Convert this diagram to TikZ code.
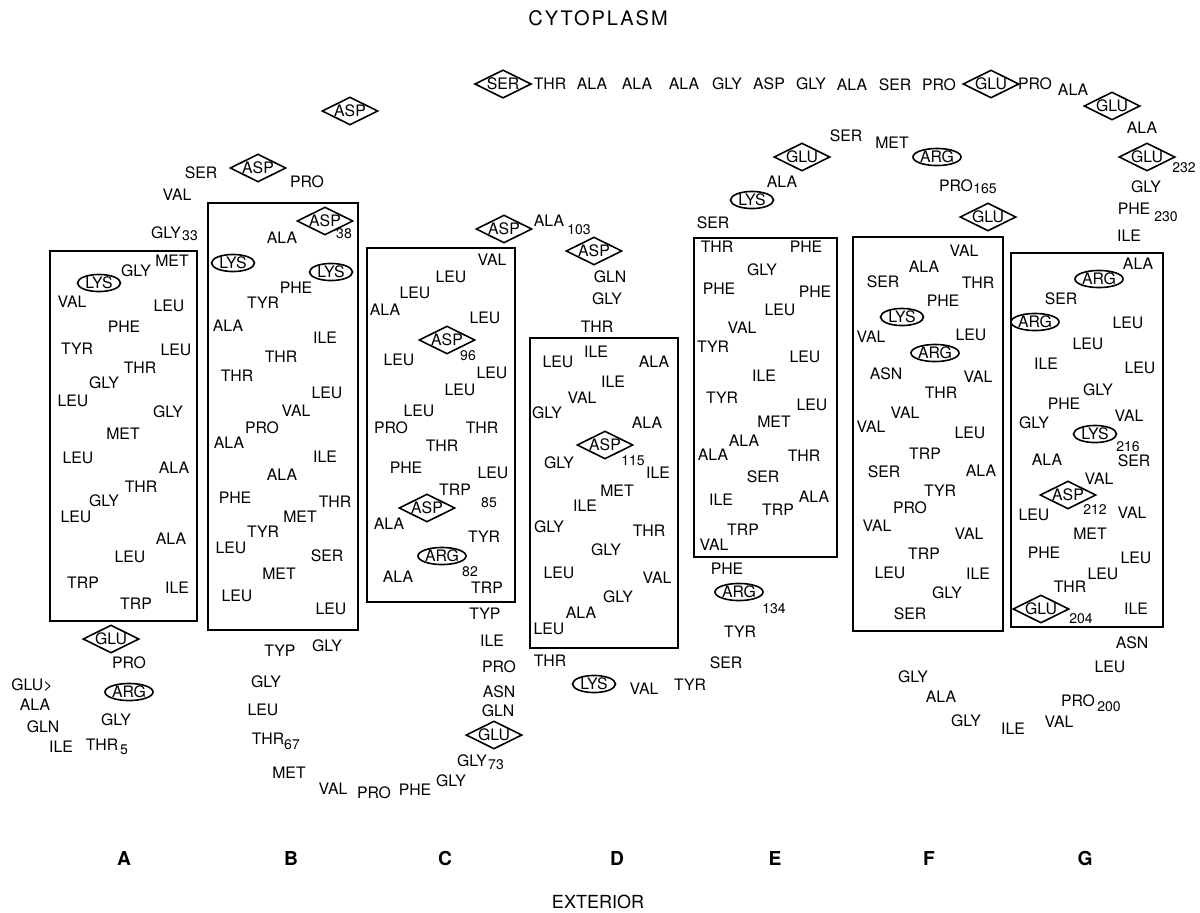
\documentclass[tikz,border=0pt]{standalone}
\usepackage{fontspec}
\setmainfont{TeX Gyre Heros}
\usetikzlibrary{shapes.geometric}
\newcommand\resfont{\fontsize{7.9}{9}\selectfont}
\newcommand\numfont{\fontsize{7}{8}\selectfont}
\newcommand\regfont{\fontsize{9}{11}\selectfont}
\newcommand\segfont{\fontsize{9.6}{11}\selectfont\bfseries}
\newcommand\resnode[4]{\node[res] (#1) at (#2,#3) {#4};}
\newcommand\numnode[4]{\node[num] (#1) at (#2,#3) {#4};}
\newcommand\acidnode[4]{\node[acid] (#1) at (#2,#3) {#4};}
\newcommand\basenode[4]{\node[base] (#1) at (#2,#3) {#4};}
\tikzset{
  res/.style={font=\resfont, inner sep=0pt},
  num/.style={font=\numfont, inner sep=0pt},
  acid/.style={res, draw, line width=0.8pt, shape=diamond, aspect=2,
    minimum width=28pt, minimum height=14pt},
  base/.style={res, draw, line width=0.8pt, ellipse,
    minimum width=21.5pt, minimum height=8.5pt},
  helix/.style={draw, line width=1pt},
  region/.style={font=\regfont, inner sep=0pt},
  segname/.style={font=\segfont, inner sep=0pt},
}
\begin{document}
\begin{tikzpicture}[x=0.5pt, y=-0.5pt]
\useasboundingbox (0,0) rectangle (1200,912);

% membrane-spanning helices
\draw[helix] (50,251) rectangle (197,621);
\draw[helix] (208,203) rectangle (358,630);
\draw[helix] (367,248) rectangle (515,602);
\draw[helix] (530,338) rectangle (678,648);
\draw[helix] (694,238) rectangle (837,557);
\draw[helix] (853,237) rectangle (1003,631);
\draw[helix] (1011,253) rectangle (1163,627);

% sides of the membrane
\node[region] (cyto) at (598,18) {\fontsize{10}{12}\selectfont\addfontfeature{LetterSpace=10}CYTOPLASM};
\node[region] (ext) at (598,902) {EXTERIOR};

% helix names
\node[segname] (hA) at (124,858) {A};
\node[segname] (hB) at (291,858) {B};
\node[segname] (hC) at (445,858) {C};
\node[segname] (hD) at (617,858) {D};
\node[segname] (hE) at (775,858) {E};
\node[segname] (hF) at (929,858) {F};
\node[segname] (hG) at (1085,858) {G};

% N-terminal end, exterior side
\resnode{n1}{32}{685}{GLU>}
\resnode{n2}{35}{705}{ALA}
\resnode{n3}{43}{727}{GLN}
\resnode{n4}{61}{747}{ILE}
\resnode{n5}{102}{745}{THR}
\numnode{n5s}{124}{750}{5}
\resnode{n6}{116}{720}{GLY}
\basenode{n7}{129}{692}{ARG}
\resnode{n8}{129}{663}{PRO}
\acidnode{n9}{111}{639}{GLU}

% helix A
\resnode{a1}{136}{604}{TRP}
\resnode{a2}{83}{583}{TRP}
\resnode{a3}{177}{588}{ILE}
\resnode{a4}{130}{557}{LEU}
\resnode{a5}{171}{539}{ALA}
\resnode{a6}{76}{517}{LEU}
\resnode{a7}{104}{501}{GLY}
\resnode{a8}{141}{487}{THR}
\resnode{a9}{174}{468}{ALA}
\resnode{a10}{78}{458}{LEU}
\resnode{a11}{123}{434}{MET}
\resnode{a12}{168}{412}{GLY}
\resnode{a13}{73}{401}{LEU}
\resnode{a14}{104}{383}{GLY}
\resnode{a15}{140}{368}{THR}
\resnode{a16}{176}{350}{LEU}
\resnode{a17}{77}{349}{TYR}
\resnode{a18}{124}{327}{PHE}
\resnode{a19}{169}{306}{LEU}
\resnode{a20}{72}{302}{VAL}
\basenode{a21}{99}{283}{LYS}
\resnode{a22}{136}{271}{GLY}
\resnode{a23}{172}{261}{MET}

% loop A-B, cytoplasmic side
\resnode{ab1}{166}{233}{GLY}
\numnode{ab1s}{190}{236}{33}
\resnode{ab2}{177}{195}{VAL}
\resnode{ab3}{201}{173}{SER}
\acidnode{ab4}{258}{168}{ASP}
\resnode{ab5}{307}{182}{PRO}
\acidnode{ab6}{350}{111}{ASP}

% helix B
\acidnode{b1}{325}{221}{ASP}
\numnode{b1s}{344}{234}{38}
\resnode{b2}{282}{238}{ALA}
\basenode{b3}{233}{263}{LYS}
\basenode{b4}{331}{272}{LYS}
\resnode{b5}{296}{288}{PHE}
\resnode{b6}{263}{303}{TYR}
\resnode{b7}{228}{326}{ALA}
\resnode{b8}{325}{338}{ILE}
\resnode{b9}{281}{357}{THR}
\resnode{b10}{237}{376}{THR}
\resnode{b11}{327}{393}{LEU}
\resnode{b12}{296}{411}{VAL}
\resnode{b13}{262}{428}{PRO}
\resnode{b14}{229}{443}{ALA}
\resnode{b15}{325}{457}{ILE}
\resnode{b16}{282}{475}{ALA}
\resnode{b17}{235}{498}{PHE}
\resnode{b18}{335}{502}{THR}
\resnode{b19}{300}{517}{MET}
\resnode{b20}{263}{532}{TYR}
\resnode{b21}{231}{548}{LEU}
\resnode{b22}{327}{556}{SER}
\resnode{b23}{279}{574}{MET}
\resnode{b24}{237}{596}{LEU}
\resnode{b25}{331}{609}{LEU}

% loop B-C, exterior side
\resnode{bc1}{327}{646}{GLY}
\resnode{bc2}{280}{651}{TYP}
\resnode{bc3}{266}{682}{GLY}
\resnode{bc4}{263}{710}{LEU}
\resnode{bc5}{268}{739}{THR}
\numnode{bc5s}{292}{745}{67}
\resnode{bc6}{289}{773}{MET}
\resnode{bc7}{333}{789}{VAL}
\resnode{bc8}{374}{793}{PRO}
\resnode{bc9}{415}{790}{PHE}
\resnode{bc10}{451}{781}{GLY}
\resnode{bc11}{472}{761}{GLY}
\numnode{bc11s}{496}{765}{73}
\acidnode{bc12}{494}{735}{GLU}
\resnode{bc13}{498}{711}{GLN}
\resnode{bc14}{499}{692}{ASN}
\resnode{bc15}{499}{667}{PRO}
\resnode{bc16}{492}{641}{ILE}
\resnode{bc17}{485}{614}{TYP}

% helix C
\resnode{c1}{487}{588}{TRP}
\resnode{c2}{398}{577}{ALA}
\numnode{c3s}{470}{572}{82}
\basenode{c3}{442}{556}{ARG}
\resnode{c4}{484}{537}{TYR}
\resnode{c5}{389}{524}{ALA}
\acidnode{c6}{427}{508}{ASP}
\resnode{c7}{455}{490}{TRP}
\numnode{c7s}{489}{503}{85}
\resnode{c8}{493}{473}{LEU}
\resnode{c9}{406}{468}{PHE}
\resnode{c10}{442}{446}{THR}
\resnode{c11}{482}{428}{THR}
\resnode{c12}{391}{428}{PRO}
\resnode{c13}{419}{411}{LEU}
\resnode{c14}{460}{390}{LEU}
\resnode{c15}{492}{373}{LEU}
\resnode{c16}{399}{360}{LEU}
\acidnode{c17}{447}{340}{ASP}
\numnode{c17s}{468}{356}{96}
\resnode{c18}{485}{318}{LEU}
\resnode{c19}{385}{310}{ALA}
\resnode{c20}{415}{293}{LEU}
\resnode{c21}{451}{277}{LEU}
\resnode{c22}{492}{260}{VAL}

% loop C-D, cytoplasmic side
\acidnode{cd1}{504}{229}{ASP}
\resnode{cd2}{549}{221}{ALA}
\numnode{cd2s}{579}{230}{103}
\acidnode{cd3}{594}{251}{ASP}
\resnode{cd4}{610}{277}{GLN}
\resnode{cd5}{607}{299}{GLY}
\resnode{cd6}{597}{327}{THR}

% helix D
\resnode{d1}{596}{352}{ILE}
\resnode{d2}{558}{362}{LEU}
\resnode{d3}{654}{362}{ALA}
\resnode{d4}{613}{382}{ILE}
\resnode{d5}{582}{398}{VAL}
\resnode{d6}{547}{413}{GLY}
\resnode{d7}{647}{423}{ALA}
\acidnode{d8}{605}{445}{ASP}
\numnode{d8s}{633}{461}{115}
\resnode{d9}{559}{463}{GLY}
\resnode{d10}{658}{473}{ILE}
\resnode{d11}{617}{491}{MET}
\resnode{d12}{585}{506}{ILE}
\resnode{d13}{549}{527}{GLY}
\resnode{d14}{649}{531}{THR}
\resnode{d15}{606}{550}{GLY}
\resnode{d16}{559}{573}{LEU}
\resnode{d17}{657}{578}{VAL}
\resnode{d18}{618}{597}{GLY}
\resnode{d19}{581}{613}{ALA}
\resnode{d20}{549}{629}{LEU}

% loop D-E, exterior side
\resnode{de1}{550}{661}{THR}
\basenode{de2}{594}{684}{LYS}
\resnode{de3}{644}{689}{VAL}
\resnode{de4}{690}{685}{TYR}
\resnode{de5}{726}{663}{SER}
\resnode{de6}{740}{632}{TYR}
\numnode{de7s}{774}{609}{134}
\basenode{de7}{739}{592}{ARG}
\resnode{de8}{727}{569}{PHE}

% helix E
\resnode{e1}{714}{545}{VAL}
\resnode{e2}{743}{530}{TRP}
\resnode{e3}{778}{510}{TRP}
\resnode{e4}{721}{500}{ILE}
\resnode{e5}{814}{497}{ALA}
\resnode{e6}{763}{477}{SER}
\resnode{e7}{804}{456}{THR}
\resnode{e8}{713}{455}{ALA}
\resnode{e9}{744}{441}{ALA}
\resnode{e10}{774}{422}{MET}
\resnode{e11}{812}{405}{LEU}
\resnode{e12}{722}{398}{TYR}
\resnode{e13}{764}{376}{ILE}
\resnode{e14}{805}{357}{LEU}
\resnode{e15}{713}{347}{TYR}
\resnode{e16}{742}{328}{VAL}
\resnode{e17}{780}{310}{LEU}
\resnode{e18}{815}{292}{PHE}
\resnode{e19}{719}{289}{PHE}
\resnode{e20}{762}{270}{GLY}
\resnode{e21}{806}{247}{PHE}
\resnode{e22}{717}{247}{THR}

% loop E-F and the long cytoplasmic stretch
\resnode{ef1}{713}{223}{SER}
\basenode{ef2}{752}{200}{LYS}
\resnode{ef3}{782}{182}{ALA}
\acidnode{ef4}{802}{157}{GLU}
\resnode{ef5}{846}{136}{SER}
\resnode{ef6}{892}{143}{MET}
\basenode{ef7}{937}{157}{ARG}
\resnode{ef8}{956}{186}{PRO}
\numnode{ef8s}{985}{189}{165}
\acidnode{ef9}{988}{217}{GLU}

\acidnode{t1}{503}{84}{SER}
\resnode{t2}{550}{84}{THR}
\resnode{t3}{592}{84}{ALA}
\resnode{t4}{637}{84}{ALA}
\resnode{t5}{684}{84}{ALA}
\resnode{t6}{727}{84}{GLY}
\resnode{t7}{769}{84}{ASP}
\resnode{t8}{811}{84}{GLY}
\resnode{t9}{852}{85}{ALA}
\resnode{t10}{895}{85}{SER}
\resnode{t11}{939}{85}{PRO}
\acidnode{t12}{991}{84}{GLU}
\resnode{t13}{1035}{84}{PRO}
\resnode{t14}{1073}{90}{ALA}
\acidnode{t15}{1112}{106}{GLU}
\resnode{t16}{1142}{128}{ALA}
\acidnode{t17}{1147}{157}{GLU}
\numnode{t17s}{1184}{168}{232}
\resnode{t18}{1146}{187}{GLY}
\resnode{t19}{1134}{209}{PHE}
\numnode{t19s}{1166}{217}{230}
\resnode{t20}{1129}{236}{ILE}

% helix F
\resnode{f1}{964}{251}{VAL}
\resnode{f2}{924}{267}{ALA}
\resnode{f3}{883}{282}{SER}
\resnode{f4}{978}{283}{THR}
\resnode{f5}{943}{301}{PHE}
\basenode{f6}{902}{317}{LYS}
\resnode{f7}{971}{335}{LEU}
\resnode{f8}{871}{337}{VAL}
\basenode{f9}{935}{353}{ARG}
\resnode{f10}{886}{374}{ASN}
\resnode{f11}{978}{377}{VAL}
\resnode{f12}{941}{393}{THR}
\resnode{f13}{905}{413}{VAL}
\resnode{f14}{871}{427}{VAL}
\resnode{f15}{970}{433}{LEU}
\resnode{f16}{925}{454}{TRP}
\resnode{f17}{884}{472}{SER}
\resnode{f18}{981}{471}{ALA}
\resnode{f19}{940}{491}{TYR}
\resnode{f20}{910}{508}{PRO}
\resnode{f21}{877}{526}{VAL}
\resnode{f22}{969}{534}{VAL}
\resnode{f23}{924}{554}{TRP}
\resnode{f24}{890}{573}{LEU}
\resnode{f25}{978}{574}{ILE}
\resnode{f26}{947}{593}{GLY}
\resnode{f27}{910}{614}{SER}

% loop F-G, exterior side
\resnode{fg1}{913}{677}{GLY}
\resnode{fg2}{941}{697}{ALA}
\resnode{fg3}{966}{721}{GLY}
\resnode{fg4}{1013}{729}{ILE}
\resnode{fg5}{1059}{722}{VAL}
\resnode{fg6}{1078}{701}{PRO}
\numnode{fg6s}{1109}{707}{200}
\resnode{fg7}{1110}{667}{LEU}
\resnode{fg8}{1132}{643}{ASN}

% helix G
\acidnode{g1}{1041}{609}{GLU}
\numnode{g1s}{1081}{619}{204}
\resnode{g2}{1136}{609}{ILE}
\resnode{g3}{1070}{587}{THR}
\resnode{g4}{1103}{574}{LEU}
\resnode{g5}{1136}{558}{LEU}
\resnode{g6}{1044}{553}{PHE}
\resnode{g7}{1090}{534}{MET}
\resnode{g8}{1034}{515}{LEU}
\resnode{g9}{1132}{513}{VAL}
\acidnode{g10}{1068}{495}{ASP}
\numnode{g10s}{1095}{510}{212}
\resnode{g11}{1099}{479}{VAL}
\resnode{g12}{1047}{460}{ALA}
\resnode{g13}{1134}{461}{SER}
\basenode{g14}{1095}{434}{LYS}
\numnode{g14s}{1128}{447}{216}
\resnode{g15}{1034}{423}{GLY}
\resnode{g16}{1129}{416}{VAL}
\resnode{g17}{1064}{404}{PHE}
\resnode{g18}{1098}{390}{GLY}
\resnode{g19}{1140}{368}{LEU}
\resnode{g20}{1046}{364}{ILE}
\resnode{g21}{1088}{344}{LEU}
\resnode{g22}{1128}{323}{LEU}
\basenode{g23}{1035}{322}{ARG}
\resnode{g24}{1061}{299}{SER}
\basenode{g25}{1099}{279}{ARG}
\resnode{g26}{1138}{264}{ALA}
\end{tikzpicture}
\end{document}
